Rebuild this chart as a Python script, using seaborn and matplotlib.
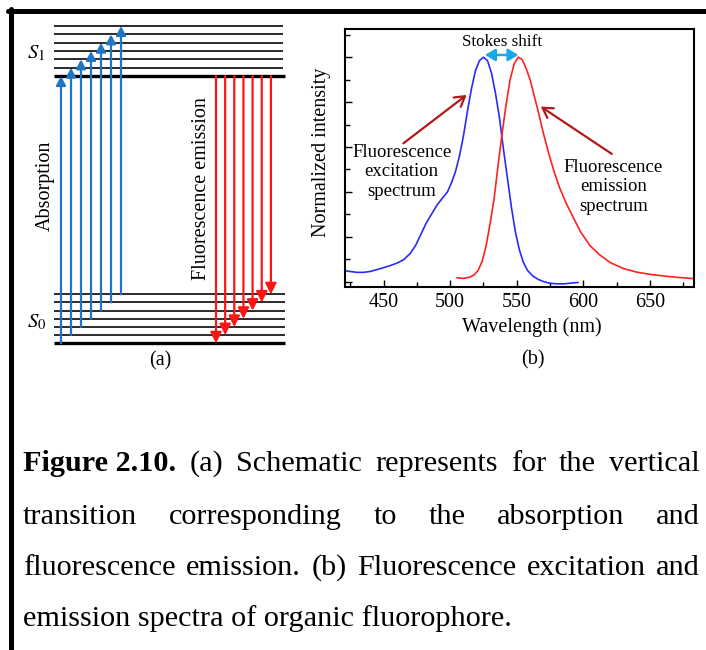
import numpy as np
import matplotlib
matplotlib.use("Agg")
import matplotlib.pyplot as plt
import seaborn as sns
from matplotlib.lines import Line2D
from matplotlib.ticker import MultipleLocator

W, H = 706, 650

# (b) excitation / emission spectra
exc_wl = [421, 425, 430, 435, 440, 445, 450, 455, 460, 465,
          470, 474, 478, 482, 486, 490, 494, 498, 501, 504,
          507, 510, 513, 516, 519, 522, 525, 528, 531, 534,
          537, 540, 543, 546, 549, 552, 555, 558, 562, 566,
          570, 575, 580, 586, 592, 596]
exc_int = [0.048, 0.045, 0.041, 0.041, 0.045, 0.053, 0.062, 0.071, 0.082, 0.097,
           0.125, 0.16, 0.21, 0.26, 0.30, 0.34, 0.37, 0.40, 0.44, 0.49,
           0.56, 0.65, 0.76, 0.86, 0.94, 0.985, 1.0, 0.985, 0.93, 0.84,
           0.73, 0.59, 0.46, 0.33, 0.22, 0.14, 0.085, 0.05, 0.025, 0.01,
           0.0, -0.008, -0.01, -0.01, -0.006, -0.004]

emi_wl = [505, 510, 515, 518, 521, 524, 527, 530, 533, 536,
          539, 542, 545, 548, 551, 554, 557, 560, 563, 566,
          570, 574, 578, 582, 587, 592, 598, 605, 612, 620,
          630, 640, 650, 660, 670, 683]
emi_int = [0.017, 0.014, 0.02, 0.03, 0.05, 0.09, 0.16, 0.26, 0.37, 0.52,
           0.66, 0.79, 0.90, 0.97, 1.0, 0.99, 0.95, 0.90, 0.83, 0.76,
           0.66, 0.57, 0.49, 0.42, 0.35, 0.29, 0.22, 0.16, 0.12, 0.085,
           0.058, 0.042, 0.032, 0.025, 0.019, 0.013]

# (a) vibrational levels of S0 and S1
s0_levels = np.arange(7)
s1_levels = np.arange(7)
s1_gap = 32.7      # S1 - S0 gap, in units of the S0 level spacing
s1_step = 1.02

caption = [
    ["Figure 2.10.", "(a)", "Schematic", "represents", "for", "the", "vertical"],
    ["transition", "corresponding", "to", "the", "absorption", "and"],
    ["fluorescence", "emission.", "(b)", "Fluorescence", "excitation", "and"],
    ["emission spectra of organic fluorophore."],
]

sns.set_style("ticks", {"axes.edgecolor": "black", "xtick.color": "black",
                        "ytick.color": "black", "text.color": "black",
                        "axes.labelcolor": "black"})
plt.rcParams["font.family"] = ["Liberation Serif", "DejaVu Serif"]
plt.rcParams["mathtext.fontset"] = "stix"

fig = plt.figure(figsize=(W / 100, H / 100), dpi=100)


def px_axes(x0, y0, x1, y1):
    return fig.add_axes([x0 / W, 1 - y1 / H, (x1 - x0) / W, (y1 - y0) / H])


# ---------- panel (a): energy diagram ----------
ax_a = px_axes(20, 15, 300, 380)
ax_a.set_xlim(2, 30)
ax_a.set_ylim(-4.49, 40.18)
ax_a.axis("off")

e0 = s0_levels * 1.0
e1 = s1_gap + s1_levels * s1_step
ax_a.hlines(e0[1:], 5.43, 28.5, color="#1a1a1a", lw=1.3)
ax_a.hlines(e1[1:], 5.43, 28.3, color="#1a1a1a", lw=1.3)
ax_a.hlines([e0[0], e1[0]], 5.43, 28.5, color="black", lw=2.4)

blue = "#1f74c6"
red = "#ff1414"
for k in range(len(s0_levels)):
    ax_a.annotate("", xy=(6.1 + k, e1[k]), xytext=(6.1 + k, e0[k]),
                  arrowprops=dict(arrowstyle="-|>,head_length=0.6,head_width=0.32",
                                  mutation_scale=9, color=blue, lw=1.6,
                                  shrinkA=0, shrinkB=0))
    ax_a.annotate("", xy=(21.6 + 0.915 * k, e0[k]), xytext=(21.6 + 0.915 * k, e1[0]),
                  arrowprops=dict(arrowstyle="-|>,head_length=0.65,head_width=0.33",
                                  mutation_scale=10, color=red, lw=1.6,
                                  shrinkA=0, shrinkB=0))

ax_a.text(3.6, 35.5, r"$S_1$", fontsize=15, ha="center", va="center")
ax_a.text(3.7, 2.6, r"$S_0$", fontsize=15, ha="center", va="center")
ax_a.text(4.5, 19.25, "Absorption", fontsize=14.5, rotation=90, ha="center", va="center")
ax_a.text(20.1, 18.9, "Fluorescence emission", fontsize=14.5, rotation=90,
          ha="center", va="center")
fig.text(160 / W, 1 - 361 / H, "(a)", fontsize=14.5, ha="center", va="center")

# ---------- panel (b): spectra ----------
ax_b = px_axes(345, 28.5, 694.3, 286.5)
sns.lineplot(x=exc_wl, y=exc_int, ax=ax_b, color="#2a2aff", lw=1.2)
sns.lineplot(x=emi_wl, y=emi_int, ax=ax_b, color="#ff2222", lw=1.2)
ax_b.set_xlim(421.1, 683.2)
ax_b.set_ylim(-0.022, 1.128)
ax_b.xaxis.set_major_locator(MultipleLocator(50))
ax_b.xaxis.set_minor_locator(MultipleLocator(25))
ax_b.yaxis.set_major_locator(MultipleLocator(0.2))
ax_b.yaxis.set_minor_locator(MultipleLocator(0.1))
ax_b.tick_params(which="both", direction="in", top=False, right=False,
                 labelleft=False, labelsize=14.5, pad=5, width=1)
ax_b.tick_params(which="major", length=5)
ax_b.tick_params(which="minor", length=3.5)
for s in ax_b.spines.values():
    s.set_linewidth(1.5)

ax_b.set_xlabel("Wavelength (nm)", fontsize=14.5)
ax_b.set_ylabel("Normalized intensity", fontsize=14.5)
ax_b.xaxis.set_label_coords(0.535, -0.157)
ax_b.xaxis.label.set_va("center")
ax_b.yaxis.set_label_coords(-0.066, 0.519)
ax_b.yaxis.label.set_va("center")

ax_b.annotate("", xy=(551.2, 1.01), xytext=(526.2, 1.01),
              arrowprops=dict(arrowstyle="<|-|>,head_length=0.5,head_width=0.3",
                              mutation_scale=12, color="#1aa7e6", lw=1.8,
                              shrinkA=0, shrinkB=0))
ax_b.text(538.7, 1.067, "Stokes shift", fontsize=12.3, ha="center", va="center")

ax_b.text(463.7, 0.49, "Fluorescence\nexcitation\nspectrum", fontsize=13.5,
          ha="center", va="center", multialignment="center")
ax_b.annotate("", xy=(512.4, 0.832), xytext=(464.9, 0.616),
              arrowprops=dict(arrowstyle="->,head_length=0.5,head_width=0.3",
                              mutation_scale=14, color="#b3181c", lw=1.6,
                              shrinkA=0, shrinkB=0))
ax_b.text(622.5, 0.423, "Fluorescence\nemission\nspectrum", fontsize=13.5,
          ha="center", va="center", multialignment="center")
ax_b.annotate("", xy=(568.0, 0.78), xytext=(621.3, 0.569),
              arrowprops=dict(arrowstyle="->,head_length=0.5,head_width=0.3",
                              mutation_scale=14, color="#b3181c", lw=1.6,
                              shrinkA=0, shrinkB=0))
fig.text(533.3 / W, 1 - 360 / H, "(b)", fontsize=14.5, ha="center", va="center")

# ---------- page border ----------
fig.add_artist(Line2D([8 / W, 1], [1 - 10.8 / H] * 2, lw=3.6, color="black",
                      transform=fig.transFigure))
fig.add_artist(Line2D([10.8 / W] * 2, [1 - 8.5 / H, 0], lw=3.6, color="black",
                      transform=fig.transFigure))

# ---------- caption (justified) ----------
cap_fs = 21.8
baselines = [471, 524, 575, 626]
x_left, x_right = 23, 700
renderer = fig.canvas.get_renderer()
for li, words in enumerate(caption):
    arts = []
    for wi, w in enumerate(words):
        bold = (li == 0 and wi == 0)
        arts.append(fig.text(x_left / W, 1 - baselines[li] / H, w, fontsize=cap_fs,
                             fontweight="bold" if bold else "normal", va="baseline"))
    if len(arts) == 1:
        continue
    widths = [a.get_window_extent(renderer=renderer).width for a in arts]
    gap = (x_right - x_left - sum(widths)) / (len(arts) - 1)
    x = x_left
    for a, wd in zip(arts, widths):
        a.set_x(x / W)
        x += wd + gap

fig.savefig("out.png", dpi=100)
